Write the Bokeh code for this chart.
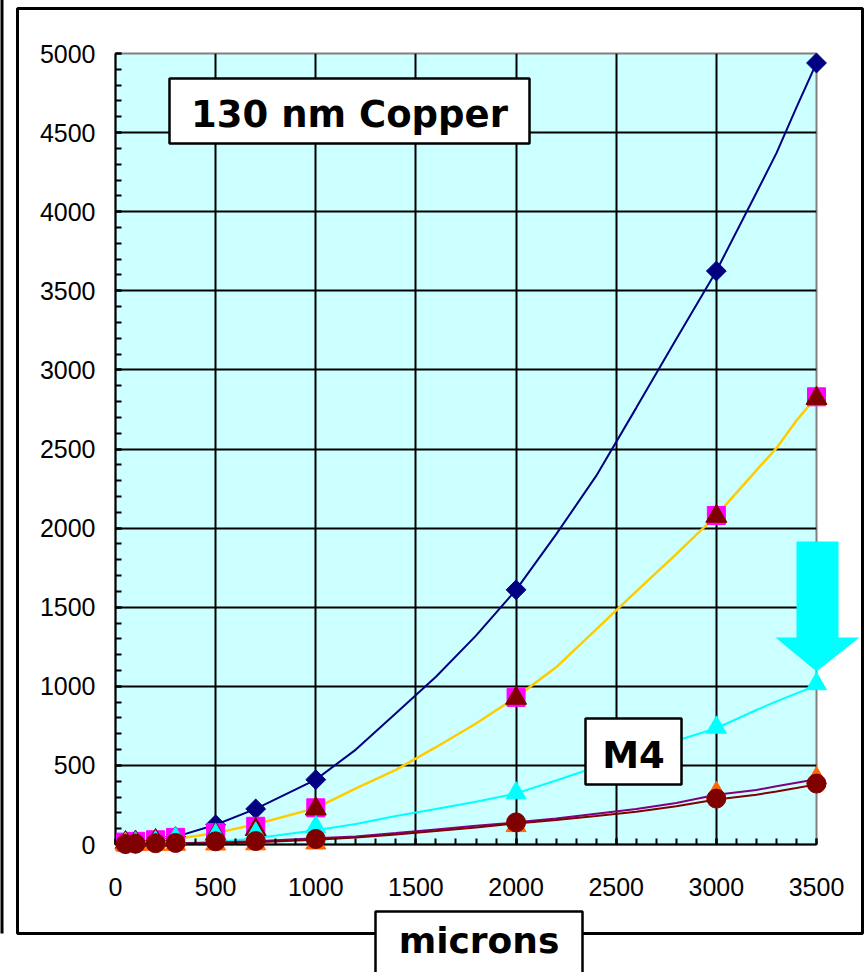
import numpy as np
from bokeh.plotting import figure
from bokeh.models import Range1d, SingleIntervalTicker
from bokeh.core.properties import value
from bokeh.embed import file_html
from bokeh.resources import INLINE

# ---- data (microns vs value) ----
x_pts = [50, 100, 200, 300, 500, 700, 1000, 2000, 3000, 3500]
diamond_vals = [3, 8, 25, 50, 125, 225, 410, 1610, 3625, 4940]
square_vals = [15, 20, 30, 45, 75, 115, 232, 930, 2080, 2830]
maroon_tri_vals = [12, 15, 25, 35, 65, 95, 225, 925, 2075, 2820]
cyan_tri_vals = [5, 8, 15, 40, 60, 70, 110, 325, 740, 1015]
orange_tri_vals = [0, 0, 0, 0, 2, 3, 8, 118, 328, 420]
circle_vals = [3, 5, 8, 10, 20, 22, 35, 140, 290, 385]

x_line = [50, 100, 200, 300, 500, 700, 1000, 1200, 1400, 1600, 1800, 2000,
          2200, 2400, 2600, 2800, 3000, 3200, 3300, 3400, 3500]
navy_line = [3, 8, 22, 48, 125, 225, 410, 600, 830, 1060, 1320, 1610,
             1960, 2330, 2760, 3195, 3625, 4120, 4370, 4660, 4940]
gold_line = [10, 13, 22, 35, 72, 128, 230, 355, 472, 615, 765, 930,
             1120, 1360, 1600, 1835, 2080, 2365, 2505, 2680, 2830]
cyan_line = [1, 2, 3, 5, 14, 40, 90, 130, 180, 225, 270, 323,
             405, 490, 573, 656, 735, 850, 905, 955, 1005]
purple_line = [2, 3, 5, 8, 12, 20, 40, 50, 72, 95, 118, 140,
               165, 195, 225, 262, 315, 345, 368, 390, 412]
maroon_line = [1, 2, 3, 5, 8, 15, 30, 45, 63, 85, 108, 133,
               155, 180, 207, 242, 285, 315, 335, 357, 380]

W, H = 867, 972
FL, FR, FT, FB = 115, 816, 53, 844
XMAX, YMAX = 3500, 5000

p = figure(width=W, height=H, x_range=Range1d(0, XMAX), y_range=Range1d(0, YMAX),
           output_backend="svg", toolbar_location=None,
           min_border_left=FL, min_border_right=W - FR,
           min_border_top=FT, min_border_bottom=H - FB,
           background_fill_color="#CCFFFF", border_fill_color="white",
           outline_line_color="#808080", outline_line_width=2)

for ax in (p.xaxis[0], p.yaxis[0]):
    ax.ticker = SingleIntervalTicker(interval=500, num_minor_ticks=5)
    ax.axis_line_color = "black"
    ax.axis_line_width = 2
    ax.major_tick_in = 6
    ax.major_tick_out = 0
    ax.minor_tick_in = 6
    ax.minor_tick_out = 0
    ax.major_tick_line_color = "black"
    ax.minor_tick_line_color = "black"
    ax.major_tick_line_width = 2
    ax.minor_tick_line_width = 2
    ax.major_label_text_font = "Liberation Sans"
    ax.major_label_text_font_size = "25px"
    ax.major_label_text_color = "black"
p.xaxis.major_label_standoff = 33
p.yaxis.major_label_standoff = 20

for g in (p.xgrid[0], p.ygrid[0]):
    g.ticker = SingleIntervalTicker(interval=500)
    g.grid_line_color = "black"
    g.grid_line_width = 2
    g.grid_line_alpha = 1

# lines
p.line(x_line, navy_line, line_color="#000080", line_width=2)
p.line(x_line, gold_line, line_color="#FFCC00", line_width=2.5)
p.line(x_line, cyan_line, line_color="#00FFFF", line_width=2)
p.line(x_line, purple_line, line_color="#800080", line_width=2)
p.line(x_line, maroon_line, line_color="#800000", line_width=2)

# markers (drawn unclipped, like the original, so they may overlap the axis)
MK = dict(level="annotation")
p.scatter(x_pts, diamond_vals, marker="square", angle=np.pi / 4, size=14,
          fill_color="#000080", line_color="#000080", **MK)
p.scatter(x_pts, square_vals, marker="square", size=18,
          fill_color="#FF00FF", line_color="#FF00FF", **MK)
p.scatter(x_pts, maroon_tri_vals, marker="triangle", size=21,
          fill_color="#800000", line_color="#800000", **MK)
p.scatter(x_pts, cyan_tri_vals, marker="triangle", size=20,
          fill_color="#00FFFF", line_color="#00FFFF", **MK)
p.scatter(x_pts, orange_tri_vals, marker="triangle", size=20,
          fill_color="#FF6600", line_color="#FF6600", **MK)
p.scatter(x_pts, circle_vals, marker="circle", size=19,
          fill_color="#800000", line_color="#800000", **MK)


# ---- decorations, positioned in page pixels ----
def dx(px):
    return (px - FL) * XMAX / (FR - FL)


def dy(py):
    return (FB - py) * YMAX / (FB - FT)


OV = dict(level="overlay")

# outer frame and left rule
p.quad(left=[dx(17)], right=[dx(862)], top=[dy(8)], bottom=[dy(933)],
       fill_alpha=0, line_color="black", line_width=3, **OV)
p.quad(left=[dx(0)], right=[dx(3)], top=[dy(-5)], bottom=[dy(933)],
       fill_color="black", line_alpha=0, **OV)


def text_box(l, r, t, b, txt, cx, base, fs):
    p.quad(left=[dx(l)], right=[dx(r)], top=[dy(t)], bottom=[dy(b)],
           fill_color="white", fill_alpha=1, line_color="black", line_width=2.5, **OV)
    p.text(x=[dx(cx)], y=[dy(base)], text=[txt], text_font=value("DejaVu Sans"),
           text_font_style="bold", text_font_size=value(fs),
           text_color="black", text_align="center",
           text_baseline="alphabetic", **OV)


text_box(169, 529, 78, 143, "130 nm Copper", 349, 114, "37px")
text_box(585, 681, 718, 784, "M4", 633, 755, "37px")
text_box(375, 582, 911, 1000, "microns", 478.5, 940, "36px")

# cyan arrow
ax_px = [796, 838, 838, 859, 816, 775, 796]
ay_px = [541, 541, 637, 637, 671, 637, 637]
p.patch([dx(v) for v in ax_px], [dy(v) for v in ay_px],
        fill_color="#00FFFF", line_alpha=0, **OV)

open("out.html", "w").write(file_html(p, INLINE))
